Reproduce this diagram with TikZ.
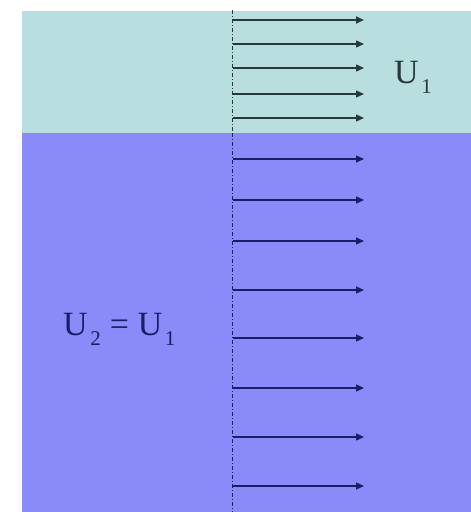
\documentclass[tikz,border=0pt]{standalone}
\usepackage{fontspec}
\setmainfont{Liberation Serif}
\usetikzlibrary{arrows.meta}
\definecolor{upperfill}{RGB}{185,222,224}
\definecolor{lowerfill}{RGB}{138,138,248}
\definecolor{upperink}{RGB}{38,56,58}
\definecolor{lowerink}{RGB}{28,28,104}
\newcommand{\subidx}[1]{\hspace{2.5pt}\raisebox{-10pt}{\fontsize{21}{21}\selectfont #1}}
\begin{document}
\begin{tikzpicture}[x=1pt,y=-1pt,
  vel/.style={-{Triangle[length=8pt,width=7pt]},line width=1.3pt},
  axisline/.style={line width=0.8pt,dash pattern=on 4pt off 2pt on 1pt off 2pt},
  lbl/.style={inner sep=0pt,anchor=base west,font=\fontsize{34}{40}\selectfont}]
\useasboundingbox (0,0) rectangle (471,512);
\fill[white] (0,0) rectangle (471,512);
\fill[upperfill] (22,11) rectangle (471,133);
\fill[lowerfill] (22,133) rectangle (471,512);
\coordinate (axtop) at (232,10);
\coordinate (axmid) at (232,133);
\coordinate (axbot) at (232,512);
\draw[axisline,upperink] (axtop) -- (axmid);
\draw[axisline,lowerink] (axmid) -- (axbot);
% upper layer arrows
\foreach \i/\y in {1/20,2/44,3/68,4/94,5/118}{
  \coordinate (us\i) at (233,\y);
  \coordinate (ue\i) at (364,\y);
}
\draw[vel,upperink,line width=2pt] (us1) -- (ue1);
\foreach \i in {2,...,5}{\draw[vel,upperink] (us\i) -- (ue\i);}
% lower layer arrows
\foreach \i/\y in {1/159,2/200,3/241,4/290,5/338,6/388,7/437,8/486}{
  \coordinate (ls\i) at (233,\y);
  \coordinate (le\i) at (364,\y);
  \draw[vel,lowerink] (ls\i) -- (le\i);
}
\node[lbl,text=upperink] (u1) at (394,83) {U\subidx{1}};
\node[lbl,text=lowerink] (u2) at (63,335) {U\subidx{2}\hspace{9pt}=\hspace{9pt}U\subidx{1}};
\end{tikzpicture}
\end{document}
